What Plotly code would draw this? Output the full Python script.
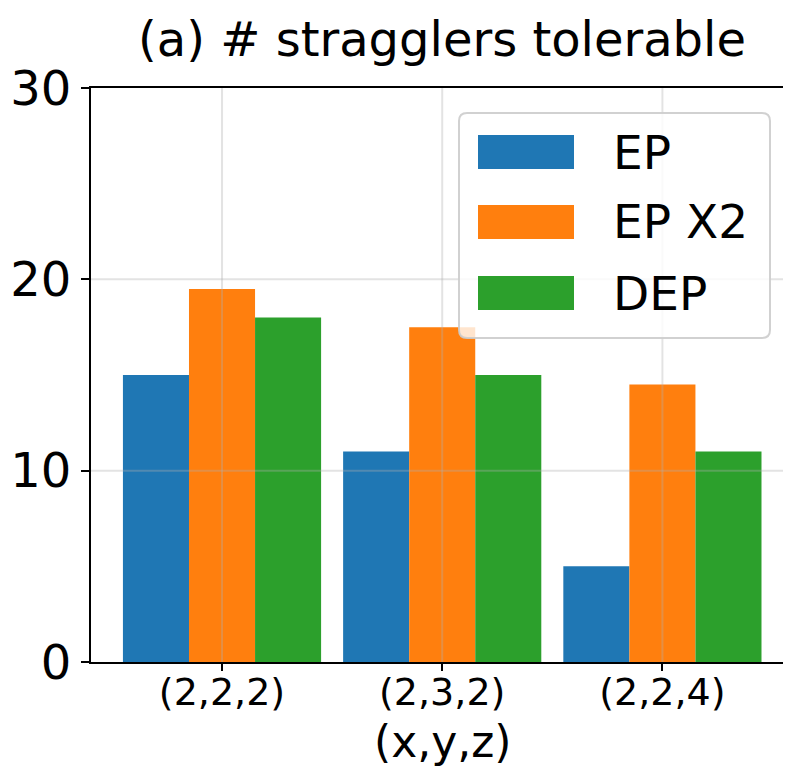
import plotly.graph_objects as go

categories = ["(2,2,2)", "(2,3,2)", "(2,2,4)"]
series_names = ["EP", "EP X2", "DEP"]
ep = [15, 11, 5]
ep_x2 = [19.5, 17.5, 14.5]
dep = [18, 15, 11]
colors = ["#1f77b4", "#ff7f0e", "#2ca02c"]
y_ticks = [0, 10, 20, 30]

# page has an 8px body margin; size the figure to fit the 791x767 window
OFF = 8
W, H = 791 - OFF, 767 - OFF
L, R, T = 91 - OFF, 0, 88 - OFF
B = H - (662 - OFF)
PW, PH = W - L - R, H - T - B

FONT = "DejaVu Sans"
xpos = list(range(len(categories)))

fig = go.Figure()
for name, vals, c in zip(series_names, [ep, ep_x2, dep], colors):
    fig.add_trace(go.Bar(x=xpos, y=vals, name=name, marker=dict(color=c, line=dict(width=0)),
                         showlegend=False))

def px2paper(px, py):
    # px, py are page pixel positions
    return (px - OFF - L) / PW, (H - B - (py - OFF)) / PH

shapes = []
grid_col = "rgba(176,176,176,0.35)"
for xv in xpos:
    shapes.append(dict(type="line", xref="x", yref="paper", x0=xv, x1=xv, y0=0, y1=1,
                       line=dict(color=grid_col, width=2), layer="above"))
for yv in y_ticks[1:-1]:
    shapes.append(dict(type="line", xref="paper", yref="y", x0=0, x1=1, y0=yv, y1=yv,
                       line=dict(color=grid_col, width=2), layer="above"))

# custom legend box (rounded)
bx0, by0 = px2paper(459, 338)
bx1, by1 = px2paper(770, 113)
rx, ry = 8 / PW, 8 / PH
path = (f"M {bx0+rx},{by0} L {bx1-rx},{by0} Q {bx1},{by0} {bx1},{by0+ry} "
        f"L {bx1},{by1-ry} Q {bx1},{by1} {bx1-rx},{by1} L {bx0+rx},{by1} "
        f"Q {bx0},{by1} {bx0},{by1-ry} L {bx0},{by0+ry} Q {bx0},{by0} {bx0+rx},{by0} Z")
shapes.append(dict(type="path", xref="paper", yref="paper", path=path,
                   fillcolor="rgba(255,255,255,0.8)", line=dict(color="rgba(204,204,204,0.9)", width=2),
                   layer="above"))
annotations = []
row_centers = [152, 222, 293]
for name, c, cy in zip(series_names, colors, row_centers):
    sx0, sy0 = px2paper(478, cy + 17)
    sx1, sy1 = px2paper(574, cy - 17)
    shapes.append(dict(type="rect", xref="paper", yref="paper", x0=sx0, x1=sx1, y0=sy0, y1=sy1,
                       fillcolor=c, line=dict(width=0), layer="above"))
    tx, ty = px2paper(611, cy)
    annotations.append(dict(text=name, xref="paper", yref="paper", x=tx, y=ty,
                            xanchor="left", yanchor="middle", showarrow=False,
                            font=dict(family=FONT, size=47, color="black")))

# x-axis title
axx, axy = px2paper(442, 741)
annotations.append(dict(text="(x,y,z)", xref="paper", yref="paper", x=axx, y=axy,
                        xanchor="center", yanchor="middle", showarrow=False,
                        font=dict(family=FONT, size=44, color="black")))

fig.update_layout(
    template="none",
    width=W, height=H,
    margin=dict(l=L, r=R, t=T, b=B, autoexpand=False),
    plot_bgcolor="white", paper_bgcolor="white",
    barmode="group", bargap=0.1, bargroupgap=0,
    font=dict(family=FONT, color="black"),
    title=dict(text="(a) # stragglers tolerable", x=(442 - OFF) / W, xanchor="center",
               y=1 - (39 - OFF) / H, yanchor="middle", font=dict(family=FONT, size=48, color="black")),
    shapes=shapes, annotations=annotations,
    showlegend=False,
)
fig.update_xaxes(range=[-0.595, 2.584], tickvals=xpos, ticktext=categories,
                 tickfont=dict(family=FONT, size=38, color="black"),
                 ticks="outside", ticklen=7, tickwidth=2, tickcolor="black",
                 ticklabelstandoff=-12,
                 showline=True, linecolor="black", linewidth=2, mirror=True,
                 showgrid=False, zeroline=False, automargin=False)
fig.update_yaxes(range=[0, 30], tickvals=y_ticks,
                 tickfont=dict(family=FONT, size=48, color="black"),
                 ticks="outside", ticklen=8, tickwidth=2, tickcolor="black",
                 showline=True, linecolor="black", linewidth=2,
                 showgrid=False, zeroline=False, automargin=False)

fig.write_html("out.html")
